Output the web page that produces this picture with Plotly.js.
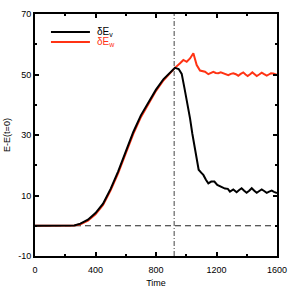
<!DOCTYPE html>
<html>
<head>
<meta charset="utf-8">
<script src="https://cdn.plot.ly/plotly-3.0.1.min.js"></script>
<style>html,body{margin:0;padding:0;background:#fff;}#chart{width:291px;height:291px;}</style>
</head>
<body>
<div id="chart"></div>
<script>
var timeV = [0,100,200,260,300,350,400,450,500,550,600,650,700,750,800,850,900,925,950,970,990,1010,1025,1040,1058,1072,1082,1100,1113,1130,1146,1165,1186,1205,1223,1240,1256,1275,1289,1311,1333,1350,1366,1383,1399,1416,1433,1450,1466,1483,1499,1515,1532,1548,1565,1580,1600];
var dEv = [0,0,0,0.1,0.7,2.0,4.2,7.3,12.2,18.0,24.5,31.0,36.5,41.0,45.0,48.5,51.2,52.2,51.8,50.2,45,40,35.5,30.5,25.5,21,18.5,17.5,16.8,15.2,14.0,14.6,14.6,13.5,13.0,12.8,12.3,12.2,11.3,12.0,11.1,11.8,12.4,11.6,10.9,11.6,12.4,11.6,10.9,11.5,12.0,11.5,10.9,11.3,11.6,11.2,10.8];
var timeW = [0,100,200,260,300,350,400,450,500,550,600,650,700,750,800,850,900,925,959,981,1003,1025,1047,1069,1091,1110,1124,1146,1162,1179,1195,1212,1228,1245,1262,1278,1295,1311,1328,1344,1360,1377,1392,1406,1422,1437,1452,1466,1482,1499,1515,1532,1546,1560,1575,1587,1600];
var dEw = [0,0,0,0.05,0.5,1.7,3.8,6.9,11.7,17.4,23.9,30.4,35.9,40.5,44.6,48.1,50.9,52.2,53.7,54.8,54.2,55.3,57.0,53.1,51.3,51.2,50.9,50.1,50.6,50.9,50.5,50.4,50.7,50.4,50.1,49.8,50.2,50.4,50.1,49.6,50.2,50.7,50.0,49.5,50.1,50.7,50.1,49.5,50.0,50.6,50.1,49.6,50.0,50.4,50.3,50.1,49.9];
var zeroX = [0,1600];
var zeroY = [0,0];
var peakX = [920,920];
var peakY = [-10,70];
var xTicks = [0,400,800,1200,1600];
var yTicks = [-10,10,30,50,70];
var seriesNames = ['δE<sub>v</sub>', 'δE<sub>w</sub>'];

var red = '#ff3314';
var FONT = 'Liberation Sans, Arial, sans-serif';
var traces = [
  {x: zeroX, y: zeroY, mode:'lines', line:{color:'#222', width:1, dash:'6px,4px'}, showlegend:false, hoverinfo:'skip'},
  {x: peakX, y: peakY, mode:'lines', line:{color:'#444', width:1, dash:'5px,2px,1px,2px'}, showlegend:false, hoverinfo:'skip'},
  {x: timeW, y: dEw, mode:'lines', line:{color:red, width:2}, name:seriesNames[1], showlegend:false},
  {x: timeV, y: dEv, mode:'lines', line:{color:'#000', width:2}, name:seriesNames[0], showlegend:false}
];
var axisCommon = {
  showline:true, linecolor:'#000', linewidth:2, mirror:'allticks',
  ticks:'inside', ticklen:4, tickwidth:2, tickcolor:'#000',
  showgrid:false, zeroline:false,
  tickfont:{family:FONT, size:9, color:'#000'}
};
var legendLines = [
  {color:'#000', y:0.926},
  {color:red, y:0.884}
];
var shapes = legendLines.map(function(l){
  return {type:'line', xref:'paper', yref:'paper', x0:0.066, x1:0.227, y0:l.y, y1:l.y, line:{color:l.color, width:2}};
});
var annotations = legendLines.map(function(l, i){
  return {xref:'paper', yref:'paper', x:0.248, y:l.y, xanchor:'left', yanchor:'middle', showarrow:false,
    text:seriesNames[i], font:{family:FONT, size:10, color:l.color}};
});
var layout = {
  width:291, height:291,
  margin:{l:35, r:14, t:14, b:35},
  paper_bgcolor:'#fff', plot_bgcolor:'#fff',
  font:{family:FONT, size:9, color:'#000'},
  xaxis: Object.assign({}, axisCommon, {
    range:[0,1600], tickvals:xTicks, ticktext:xTicks.map(String), ticklabelstandoff:4,
    minor:{tickvals:[200,600,1000,1400], ticks:'inside', ticklen:2, tickwidth:2, tickcolor:'#000'},
    title:{text:'Time', font:{size:9}, standoff:6}
  }),
  yaxis: Object.assign({}, axisCommon, {
    range:[-10,70], tickvals:yTicks, ticktext:yTicks.map(String),
    minor:{tickvals:[0,20,40,60], ticks:'inside', ticklen:2, tickwidth:2, tickcolor:'#000'},
    title:{text:'E-E(t=0)', font:{size:9}, standoff:6}
  }),
  shapes: shapes,
  annotations: annotations,
  showlegend:false
};
Plotly.newPlot('chart', traces, layout, {staticPlot:true, displayModeBar:false});
</script>
</body>
</html>
